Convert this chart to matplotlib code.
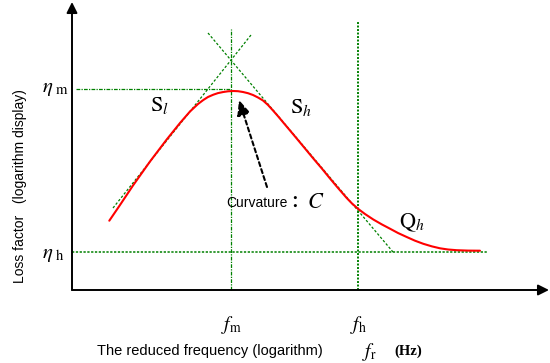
import matplotlib
matplotlib.use('Agg')
import matplotlib.pyplot as plt

plt.rcParams['mathtext.fontset'] = 'stix'
plt.rcParams['font.family'] = ['Liberation Sans', 'Noto Sans CJK JP', 'DejaVu Sans']

# conceptual units: x = log reduced frequency, y = log loss factor
curve_x = [37.3, 48, 61, 78, 94.7, 108, 118, 126, 131.3, 136, 141.3, 146, 151.3, 156, 161.3,
           166, 171, 176, 181, 186, 191, 196, 201, 206, 211, 218, 224.7, 233, 241.3, 250, 258,
           266, 274.7, 280, 286.3, 293, 301.3, 310, 318, 326, 334.7, 343, 351.3, 360, 368, 376,
           384.7, 396, 408]
curve_y = [69.3, 85, 104.5, 128.5, 150.5, 167, 178.5, 186, 190, 193, 195.3, 196.9, 198, 198.7, 199,
           198.8, 198, 196.8, 195, 192.5, 189.5, 185, 179.5, 173.8, 167.8, 159.5, 151.5, 141.5, 131.5,
           121.3, 111.5, 102, 92, 86.5, 81, 76, 70.5, 65.5, 61.3, 57, 53, 49.3, 46.2, 43.6, 41.7,
           40.5, 39.8, 39.4, 39.3]

eta_m = 201
eta_h = 38
f_m = 159
f_h = 286

# tangent lines (low-side slope S_l, high-side slope S_h)
tan_l_x = [41, 179]
tan_l_y = [82, 255]
tan_h_x = [136, 321]
tan_h_y = [257, 38]

fig = plt.figure(figsize=(5.5, 3.63), dpi=100)
ax = fig.add_axes([0, 0, 1, 1])
ax.set_xlim(-72, 478)
ax.set_ylim(-73, 290)
ax.axis('off')

green = '#008000'

# axes with arrows
ax.annotate('', xy=(0, 288), xytext=(0, 0),
            arrowprops=dict(arrowstyle='-|>', lw=1.4, color='black', mutation_scale=16, shrinkA=0, shrinkB=0))
ax.annotate('', xy=(477, 0), xytext=(0, 0),
            arrowprops=dict(arrowstyle='-|>', lw=1.4, color='black', mutation_scale=16, shrinkA=0, shrinkB=0))

# reference lines
ax.plot([4, f_m], [eta_m, eta_m], color=green, lw=0.9, ls=(0, (3, 1, 1, 1)))
ax.plot([0, 416], [eta_h, eta_h], color=green, lw=1.1, ls=(0, (1.5, 1)))
ax.plot([f_m, f_m], [0, 261], color=green, lw=0.9, ls=(0, (3, 1, 1, 1)))
ax.plot([f_h, f_h], [0, 268], color=green, lw=1.4, ls=(0, (1, 0.8)))
ax.plot(tan_l_x, tan_l_y, color=green, lw=0.9, ls=(0, (2, 1.5)))
ax.plot(tan_h_x, tan_h_y, color=green, lw=0.9, ls=(0, (2, 1.5)))

# loss factor curve
ax.plot(curve_x, curve_y, color='red', lw=1.5, solid_capstyle='round', solid_joinstyle='round')

# curvature arrow
ax.annotate('', xy=(167, 190), xytext=(195, 103),
            arrowprops=dict(arrowstyle='-|>,head_length=0.5,head_width=0.22', lw=1.5, color='black',
                            ls=(0, (2, 1.5)), mutation_scale=18, shrinkA=0, shrinkB=0))

# labels
ax.text(78, 185, r'$\mathrm{S}_{l}$', fontsize=16, ha='left', va='center')
ax.text(218, 183, r'$\mathrm{S}_{h}$', fontsize=16, ha='left', va='center')
ax.text(327, 67, r'$\mathrm{Q}_{h}$', fontsize=16, ha='left', va='center')
ax.text(154, 87, 'Curvature', fontsize=10, ha='left', va='center')
ax.text(214, 87, '：', fontsize=12, ha='left', va='center', fontweight='bold')
ax.text(235, 87, r'$C$', fontsize=16, ha='left', va='center')

ax.text(-30, 201, r'$\eta_{\ \mathrm{m}}$', fontsize=15, ha='left', va='center')
ax.text(-30, 36, r'$\eta_{\ \mathrm{h}}$', fontsize=15, ha='left', va='center')
ax.text(f_m, -35, r'$f_{\mathrm{m}}$', fontsize=14, ha='center', va='center')
ax.text(f_h, -35, r'$f_{\mathrm{h}}$', fontsize=14, ha='center', va='center')

ax.text(25, -61, 'The reduced frequency (logarithm)', fontsize=10.5, ha='left', va='center')
ax.text(290, -62, r'$f_{\mathrm{r}}$', fontsize=14, ha='left', va='center')
ax.text(322, -61, '(Hz)', fontsize=10.5, ha='left', va='center', family='Liberation Serif', fontweight='bold')

ax.text(-52, 104, 'Loss factor   (logarithm display)', fontsize=10, rotation=90, ha='center', va='center')

fig.savefig('out.png', dpi=100)
